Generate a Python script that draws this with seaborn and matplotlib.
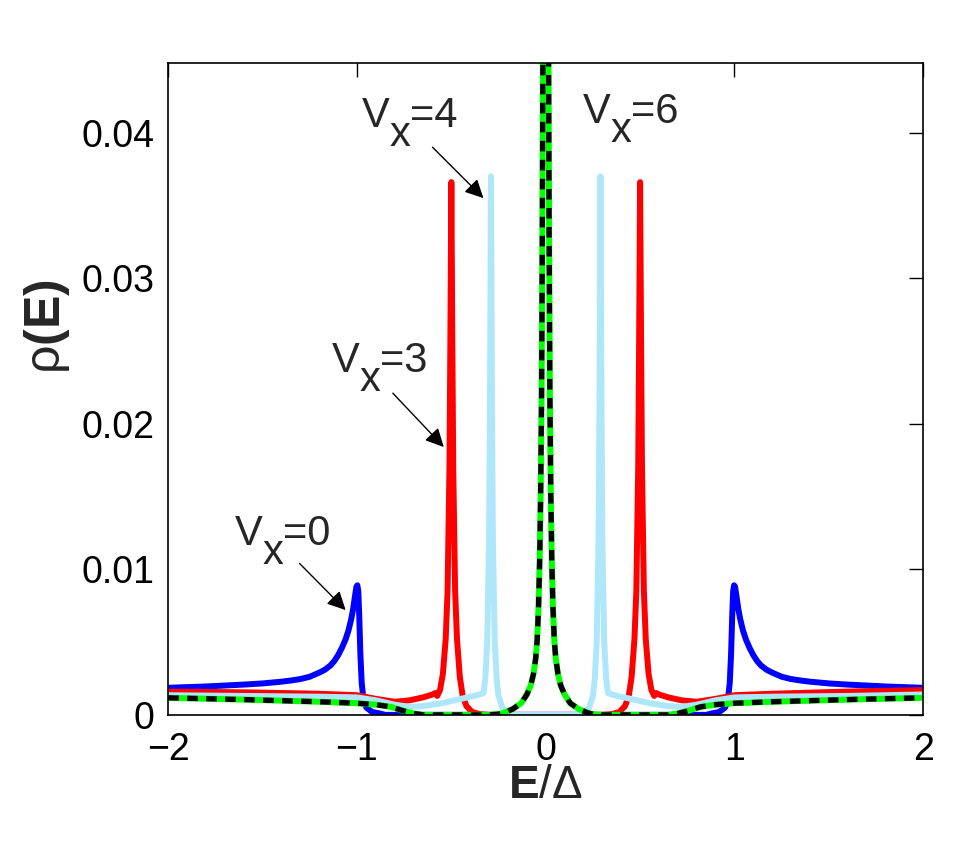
import matplotlib
matplotlib.use('Agg')
import matplotlib.pyplot as plt
from matplotlib.transforms import offset_copy
import seaborn as sns

# --- data ---
# V_x = 0 (blue)
e_v0 = [-2.0, -1.8, -1.6, -1.5, -1.4, -1.35, -1.3, -1.25, -1.2, -1.17, -1.14, -1.12, -1.1, -1.08, -1.06,
        -1.045, -1.03, -1.02, -1.01, -1.003, -0.998, -0.993, -0.988, -0.982, -0.975, -0.965, -0.95, -0.92,
        -0.88, -0.85, -0.8, 0.0,
        0.8, 0.85, 0.88, 0.92, 0.95, 0.965, 0.975, 0.982, 0.988, 0.993, 0.998, 1.003, 1.01, 1.02, 1.03,
        1.045, 1.06, 1.08, 1.1, 1.12, 1.14, 1.17, 1.2, 1.25, 1.3, 1.35, 1.4, 1.5, 1.6, 1.8, 2.0]
rho_v0 = [0.00186, 0.00195, 0.00208, 0.00216, 0.00228, 0.00236, 0.00246, 0.00262, 0.0029, 0.0031, 0.0034, 0.0037, 0.0041, 0.0046, 0.0052,
          0.0058, 0.0066, 0.0073, 0.0082, 0.0088, 0.0089, 0.0085, 0.0068, 0.0042, 0.0022, 0.0010, 0.0005, 0.0002,
          0.0001, 0.0, 0.0, 0.0,
          0.0, 0.0, 0.0001, 0.0002, 0.0005, 0.0010, 0.0022, 0.0042, 0.0068, 0.0085, 0.0089, 0.0088, 0.0082, 0.0073, 0.0066,
          0.0058, 0.0052, 0.0046, 0.0041, 0.0037, 0.0034, 0.0031, 0.0029, 0.00262, 0.00246, 0.00236, 0.00228, 0.00216, 0.00208, 0.00195, 0.00186]

# V_x = 3 (red)
e_v3 = [-2.0, -1.6, -1.2, -1.0, -0.9, -0.8, -0.72, -0.65, -0.6, -0.585, -0.575, -0.56, -0.545, -0.53, -0.52,
        -0.51, -0.505, -0.5, -0.495, -0.49, -0.48, -0.47, -0.455, -0.44, -0.42, -0.39, -0.35, -0.3, 0.0,
        0.3, 0.35, 0.39, 0.42, 0.44, 0.455, 0.47, 0.48, 0.49, 0.495, 0.5, 0.505, 0.51, 0.52, 0.53, 0.545,
        0.56, 0.575, 0.585, 0.6, 0.65, 0.72, 0.8, 0.9, 1.0, 1.2, 1.6, 2.0]
rho_v3 = [0.0016, 0.00155, 0.00145, 0.00135, 0.0011, 0.0009, 0.001, 0.0012, 0.0014, 0.0015, 0.0013, 0.0017, 0.0028, 0.0052, 0.0085,
          0.017, 0.026, 0.0366, 0.026, 0.017, 0.0085, 0.0052, 0.0026, 0.0013, 0.0006, 0.0002, 0.00005, 0.0, 0.0,
          0.0, 0.00005, 0.0002, 0.0006, 0.0013, 0.0026, 0.0052, 0.0085, 0.017, 0.026, 0.0366, 0.026, 0.017, 0.0085, 0.0052, 0.0028,
          0.0017, 0.0013, 0.0015, 0.0014, 0.0012, 0.001, 0.0009, 0.0011, 0.00135, 0.00145, 0.0016, 0.0017]

# V_x = 4 (light blue)
e_v4 = [-2.0, -1.6, -1.2, -1.0, -0.9, -0.8, -0.72, -0.65, -0.55, -0.45, -0.38, -0.35, -0.33, -0.32, -0.31,
        -0.3, -0.295, -0.29, -0.285, -0.28, -0.27, -0.26, -0.25, -0.23, -0.2, -0.17, 0.0,
        0.17, 0.2, 0.23, 0.25, 0.26, 0.27, 0.28, 0.285, 0.29, 0.295, 0.3, 0.31, 0.32, 0.33, 0.35, 0.38,
        0.45, 0.55, 0.65, 0.72, 0.8, 0.9, 1.0, 1.2, 1.6, 2.0]
rho_v4 = [0.00135, 0.0013, 0.00125, 0.0012, 0.001, 0.0007, 0.00055, 0.0006, 0.0008, 0.0011, 0.0013, 0.0014, 0.0015, 0.0025, 0.005,
          0.012, 0.022, 0.037, 0.022, 0.012, 0.005, 0.0025, 0.0013, 0.0005, 0.0001, 0.0, 0.0,
          0.0, 0.0001, 0.0005, 0.0013, 0.0025, 0.005, 0.012, 0.022, 0.037, 0.022, 0.012, 0.005, 0.0025, 0.0015, 0.0014, 0.0013,
          0.0011, 0.0008, 0.0006, 0.00055, 0.0007, 0.001, 0.0012, 0.00125, 0.0013, 0.0014]

# V_x = 6 (green, black dashed on top)
e_v6 = [-2.0, -1.6, -1.2, -1.0, -0.9, -0.82, -0.76, -0.7, -0.65, -0.3, -0.25, -0.22, -0.175, -0.13, -0.1,
        -0.08, -0.065, -0.053, -0.045, -0.038, -0.032, -0.027, -0.022, -0.018, -0.015, -0.01, -0.005, 0.0,
        0.005, 0.01, 0.015, 0.018, 0.022, 0.027, 0.032, 0.038, 0.045, 0.053, 0.065, 0.08, 0.1, 0.13, 0.175,
        0.22, 0.25, 0.3, 0.65, 0.7, 0.76, 0.82, 0.9, 1.0, 1.2, 1.6, 2.0]
rho_v6 = [0.00117, 0.00105, 0.0009, 0.0008, 0.0007, 0.00055, 0.0003, 0.0001, 0.0, 0.0, 0.00005, 0.00015, 0.0004, 0.0008, 0.0014,
          0.002, 0.0028, 0.0039, 0.0052, 0.0075, 0.0107, 0.015, 0.022, 0.033, 0.045, 0.07, 0.09, 0.1,
          0.09, 0.07, 0.045, 0.033, 0.022, 0.015, 0.0107, 0.0075, 0.0052, 0.0039, 0.0028, 0.002, 0.0014, 0.0008, 0.0004,
          0.00015, 0.00005, 0.0, 0.0, 0.0001, 0.0003, 0.00055, 0.0007, 0.0008, 0.0009, 0.00105, 0.00117]

x_ticks = [-2, -1, 0, 1, 2]
x_ticklabels = ['\u22122', '\u22121', '0', '1', '2']
y_ticks = [0, 0.01, 0.02, 0.03, 0.04]
y_ticklabels = ['0', '0.01', '0.02', '0.03', '0.04']
v_values = ['0', '3', '4', '6']

sns.set_style('white')
plt.rcParams['font.family'] = ['Liberation Sans', 'DejaVu Sans']
plt.rcParams['mathtext.fontset'] = 'custom'
plt.rcParams['mathtext.rm'] = 'Liberation Sans'
plt.rcParams['mathtext.it'] = 'Liberation Sans:italic'
plt.rcParams['mathtext.bf'] = 'Liberation Sans:bold'

fig = plt.figure(figsize=(9.78, 8.48), dpi=100)
ax = fig.add_axes([0.172, 0.157, 0.772, 0.769])

sns.lineplot(x=e_v0, y=rho_v0, ax=ax, color='#0000ff', lw=4.3)
sns.lineplot(x=e_v3, y=rho_v3, ax=ax, color='#ff0000', lw=4.3)
sns.lineplot(x=e_v4, y=rho_v4, ax=ax, color='#aee6fa', lw=4.3)
sns.lineplot(x=e_v6, y=rho_v6, ax=ax, color='#00ff00', lw=4.3)
sns.lineplot(x=e_v6, y=rho_v6, ax=ax, color='black', lw=3.8)
ax.lines[-1].set_dashes([2.0, 1.6])

ax.set_xlim(-2, 2)
ax.set_ylim(0, 0.0448)
ax.set_xticks(x_ticks)
ax.set_xticklabels(x_ticklabels)
ax.set_yticks(y_ticks)
ax.set_yticklabels(y_ticklabels)
ax.tick_params(direction='in', length=10, width=1, top=True, right=True,
               labelsize=27, colors='black')
ax.tick_params(axis='x', pad=12)
ax.tick_params(axis='y', pad=10)
for sp in ax.spines.values():
    sp.set_linewidth(1.2)
    sp.set_color('black')

ax.set_xlabel('$\\mathbf{E}$/\u0394', fontsize=33)
ax.xaxis.set_label_coords(0.5, -0.076)
ax.set_ylabel('\u03c1$\\mathbf{(E)}$', fontsize=36)
ax.yaxis.set_label_coords(-0.128, 0.595)

# annotations: "V" + lowered "x" + "=n"
label_pos = [(-1.649, 0.01168), (-1.135, 0.02357), (-0.976, 0.04041), (0.196, 0.04069)]
for v, (lx, ly) in zip(v_values, label_pos):
    ax.text(lx, ly, 'V', fontsize=30, ha='left', va='baseline')
    ax.text(lx, ly, 'x', fontsize=30, ha='left', va='baseline',
            transform=offset_copy(ax.transData, fig=fig, x=20, y=-14, units='points'))
    ax.text(lx, ly, '=' + v, fontsize=30, ha='left', va='baseline',
            transform=offset_copy(ax.transData, fig=fig, x=35, y=0, units='points'))

arrows = [((-1.304, 0.0104), (-1.06, 0.0072)),
          ((-0.81, 0.0221), (-0.54, 0.0184)),
          ((-0.60, 0.0390), (-0.33, 0.0355))]
for tail, head in arrows:
    ax.annotate('', xy=head, xytext=tail,
                arrowprops=dict(arrowstyle='-|>', color='black', lw=1.0,
                                mutation_scale=28, shrinkA=0, shrinkB=0))

fig.savefig('out.png', dpi=100, facecolor='white')
